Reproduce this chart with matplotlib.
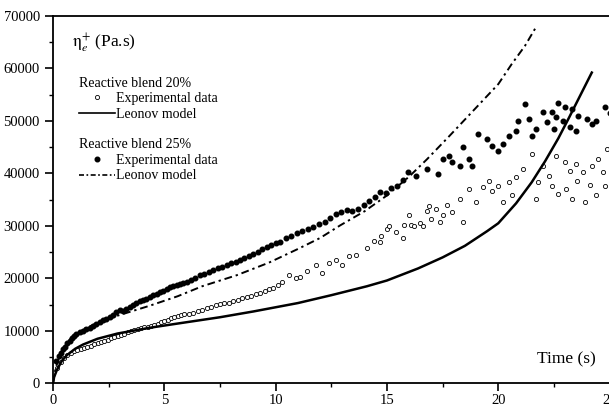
import matplotlib
matplotlib.use("Agg")
import matplotlib.pyplot as plt
from matplotlib.lines import Line2D
from matplotlib.ticker import MultipleLocator

plt.rcParams["font.family"] = ["Liberation Serif", "DejaVu Serif"]
plt.rcParams["mathtext.fontset"] = "stix"

# Reactive blend 20% - experimental data (open circles)
t20_exp = [0.2, 0.35, 0.5, 0.65, 0.8, 0.95, 1.1, 1.25, 1.4, 1.55, 1.7, 1.85, 2.0, 2.15, 2.3,
           2.45, 2.6, 2.75, 2.9, 3.05, 3.2, 3.35, 3.5, 3.65, 3.8, 3.95, 4.1, 4.25, 4.4, 4.55,
           4.7, 4.85, 5.0, 5.15, 5.3, 5.45, 5.6, 5.75, 5.9, 6.1, 6.3, 6.5, 6.7, 6.9, 7.1,
           7.3, 7.5, 7.7, 7.9, 8.1, 8.3, 8.5, 8.7, 8.9, 9.1, 9.3, 9.5, 9.7, 9.9, 10.1,
           10.3, 10.6, 10.9, 11.1, 11.4, 11.8, 12.1, 12.4, 12.7, 13.0, 13.3, 13.6, 14.1, 14.4, 14.7,
           14.75, 15.0, 15.1, 15.4, 15.7, 15.75, 16.0, 16.1, 16.2, 16.5, 16.6, 16.8, 16.9, 17.0, 17.2,
           17.4, 17.5, 17.7, 17.9, 18.3, 18.4, 18.7, 19.0, 19.3, 19.6, 19.7, 20.0, 20.2, 20.5, 20.6,
           20.8, 21.1, 21.5, 21.7, 21.8, 22.0, 22.3, 22.4, 22.6, 22.7, 23.0, 23.05, 23.2, 23.3, 23.5,
           23.55, 23.8, 23.9, 24.1, 24.2, 24.4, 24.5, 24.7, 24.8, 24.9]
v20_exp = [3000, 4000, 4800, 5400, 5800, 6100, 6300, 6500, 6800, 7000, 7200, 7500, 7700, 7900, 8100,
           8300, 8600, 8800, 9000, 9200, 9400, 9700, 9900, 10100, 10300, 10500, 10700, 10800, 11000, 11100,
           11300, 11600, 11900, 12100, 12400, 12700, 12900, 13000, 13200, 13300, 13500, 13800, 14000, 14300, 14600,
           14900, 15100, 15300, 15400, 15600, 15800, 16200, 16500, 16700, 17000, 17300, 17600, 17900, 18200, 18700,
           19300, 20600, 20100, 20200, 21400, 22500, 21000, 22900, 23500, 22500, 24200, 24400, 25700, 27200, 27000,
           28000, 29500, 29900, 28900, 27600, 30100, 32000, 30100, 29900, 30500, 29900, 32900, 33700, 31400, 33300,
           30800, 32000, 33900, 32700, 35200, 30800, 37100, 34600, 37500, 38600, 36700, 37600, 34600, 38400, 35800,
           39400, 40900, 43700, 35200, 38400, 41400, 39500, 37600, 43300, 36100, 42200, 37100, 40500, 35200, 41800,
           38600, 40300, 34600, 37800, 41400, 35800, 42800, 40300, 37600, 44700]

# Reactive blend 25% - experimental data (filled circles)
t25_exp = [0.15, 0.25, 0.35, 0.45, 0.55, 0.65, 0.75, 0.85, 0.95, 1.05, 1.2, 1.35, 1.5, 1.65, 1.8,
           1.95, 2.1, 2.25, 2.4, 2.55, 2.7, 2.85, 3.0, 3.15, 3.3, 3.45, 3.6, 3.75, 3.9, 4.05,
           4.2, 4.35, 4.5, 4.65, 4.8, 4.95, 5.1, 5.25, 5.4, 5.55, 5.7, 5.85, 6.0, 6.2, 6.4,
           6.6, 6.8, 7.0, 7.2, 7.4, 7.6, 7.8, 8.0, 8.2, 8.4, 8.6, 8.8, 9.0, 9.2, 9.4,
           9.6, 9.8, 10.0, 10.2, 10.45, 10.7, 10.95, 11.2, 11.45, 11.7, 11.95, 12.2, 12.45, 12.7, 12.95,
           13.2, 13.45, 13.7, 13.95, 14.2, 14.45, 14.7, 14.95, 15.2, 15.45, 15.7, 15.95, 16.3, 16.8, 17.3,
           17.5, 17.8, 17.9, 18.3, 18.4, 18.7, 18.8, 19.1, 19.5, 19.7, 20.0, 20.2, 20.5, 20.8, 20.9,
           21.2, 21.4, 21.5, 21.7, 22.0, 22.2, 22.4, 22.5, 22.6, 22.7, 22.9, 23.0, 23.2, 23.3, 23.5,
           23.6, 24.0, 24.2, 24.4, 24.8, 25.0]
v25_exp = [4200, 5200, 5800, 6500, 7000, 7600, 8100, 8600, 9100, 9500, 9700, 10000, 10300, 10600, 11000,
           11300, 11700, 12000, 12300, 12700, 13100, 13600, 13900, 13800, 14200, 14600, 15000, 15300, 15600, 15900,
           16100, 16400, 16800, 17100, 17400, 17600, 17900, 18300, 18500, 18700, 18900, 19100, 19400, 19700, 20100,
           20600, 20900, 21300, 21600, 21900, 22200, 22500, 22900, 23200, 23500, 23900, 24200, 24600, 25000, 25600,
           26000, 26300, 26700, 27000, 27600, 28000, 28600, 29000, 29500, 29800, 30400, 30800, 31500, 32200, 32700,
           33000, 32800, 33300, 34000, 34800, 35500, 36400, 36300, 37200, 37600, 38700, 40300, 39500, 40900, 39900,
           42800, 43300, 42200, 41400, 45000, 42800, 41400, 47500, 46500, 45200, 44300, 45600, 47100, 48100, 49900,
           53200, 50300, 47100, 48400, 51700, 49800, 51700, 48400, 50700, 53500, 49900, 52600, 48800, 52200, 48100,
           50900, 50300, 49400, 49900, 52600, 51500]

# Leonov model curves
t20_model = [0, 0.05, 0.18, 0.4, 0.63, 1.0, 1.35, 2.0, 2.9, 4.35, 5.6, 7.5, 9.0, 11.0, 12.5,
             14.1, 15.0, 16.4, 17.5, 18.5, 19.5, 20.0, 20.8, 21.5, 22.1, 22.7, 23.2, 23.7, 24.2]
v20_model = [0, 1200, 2600, 4300, 5400, 6600, 7400, 8500, 9500, 10600, 11400, 12600, 13700, 15300, 16800,
             18500, 19600, 21900, 24000, 26200, 29000, 30500, 34300, 38300, 42300, 46700, 50800, 55000, 59200]
t25_model = [0, 0.1, 0.22, 0.45, 0.8, 1.35, 2.0, 2.9, 4.35, 5.6, 6.7, 8.25, 9.7, 11.0, 12.0,
             12.9, 14.0, 15.0, 16.0, 16.8, 17.8, 19.0, 20.0, 20.6, 21.2, 21.7]
v25_model = [0, 2500, 4300, 6500, 8600, 10300, 11500, 12900, 14800, 16600, 18500, 20600, 23000, 25600, 27700,
             30100, 32800, 35800, 39400, 42700, 47100, 52500, 57000, 60800, 64300, 67900]

fig = plt.figure(figsize=(6.09, 4.07), dpi=100)
ax = fig.add_axes([0.087, 0.058, 0.914, 0.903])

ax.plot(t20_exp, v20_exp, "o", mfc="white", mec="black", mew=0.6, ms=3.0, linestyle="none")
ax.plot(t25_exp, v25_exp, "o", color="black", ms=3.3, linestyle="none")
ax.plot(t20_model, v20_model, "-", color="black", lw=1.8)
ax.plot(t25_model, v25_model, color="black", lw=1.4, dashes=(4, 2, 1.2, 2))

ax.set_xlim(0, 25)
ax.set_ylim(0, 70000)
ax.xaxis.set_major_locator(MultipleLocator(5))
ax.xaxis.set_minor_locator(MultipleLocator(2.5))
ax.yaxis.set_major_locator(MultipleLocator(10000))
ax.yaxis.set_minor_locator(MultipleLocator(5000))
ax.tick_params(which="major", direction="out", length=6, width=1.2, labelsize=10.5)
ax.tick_params(which="minor", direction="out", length=3, width=1.0)
ax.tick_params(axis="x", which="major", pad=1.5)
for s in ["left", "bottom", "top", "right"]:
    ax.spines[s].set_linewidth(1.3)

ax.text(0.035, 0.925, r"$\mathrm{\eta}^{+}_{e}$ (Pa.s)", transform=ax.transAxes, fontsize=12.5,
        ha="left", va="center")
ax.text(0.87, 0.065, "Time (s)", transform=ax.transAxes, fontsize=12.5,
        ha="left", va="center")

# two legend blocks
h20 = [Line2D([], [], marker="o", mfc="white", mec="black", mew=0.6, ms=3.0, linestyle="none"),
       Line2D([], [], color="black", lw=1.2)]
h25 = [Line2D([], [], marker="o", color="black", ms=3.3, linestyle="none"),
       Line2D([], [], color="black", lw=1.2, dashes=(3, 1.5, 1, 1.5))]
leg1 = ax.legend(h20, ["Experimental data", "Leonov model"], title="Reactive blend 20%",
                 loc="upper left", bbox_to_anchor=(0.046, 0.835), frameon=False, fontsize=10,
                 title_fontsize=10, handlelength=2.6, handletextpad=0.1, labelspacing=0.2,
                 borderpad=0, borderaxespad=0)
leg1._legend_box.align = "left"
ax.add_artist(leg1)
leg2 = ax.legend(h25, ["Experimental data", "Leonov model"], title="Reactive blend 25%",
                 loc="upper left", bbox_to_anchor=(0.046, 0.668), frameon=False, fontsize=10,
                 title_fontsize=10, handlelength=2.6, handletextpad=0.1, labelspacing=0.2,
                 borderpad=0, borderaxespad=0)
leg2._legend_box.align = "left"

fig.savefig("out.png", dpi=100)
